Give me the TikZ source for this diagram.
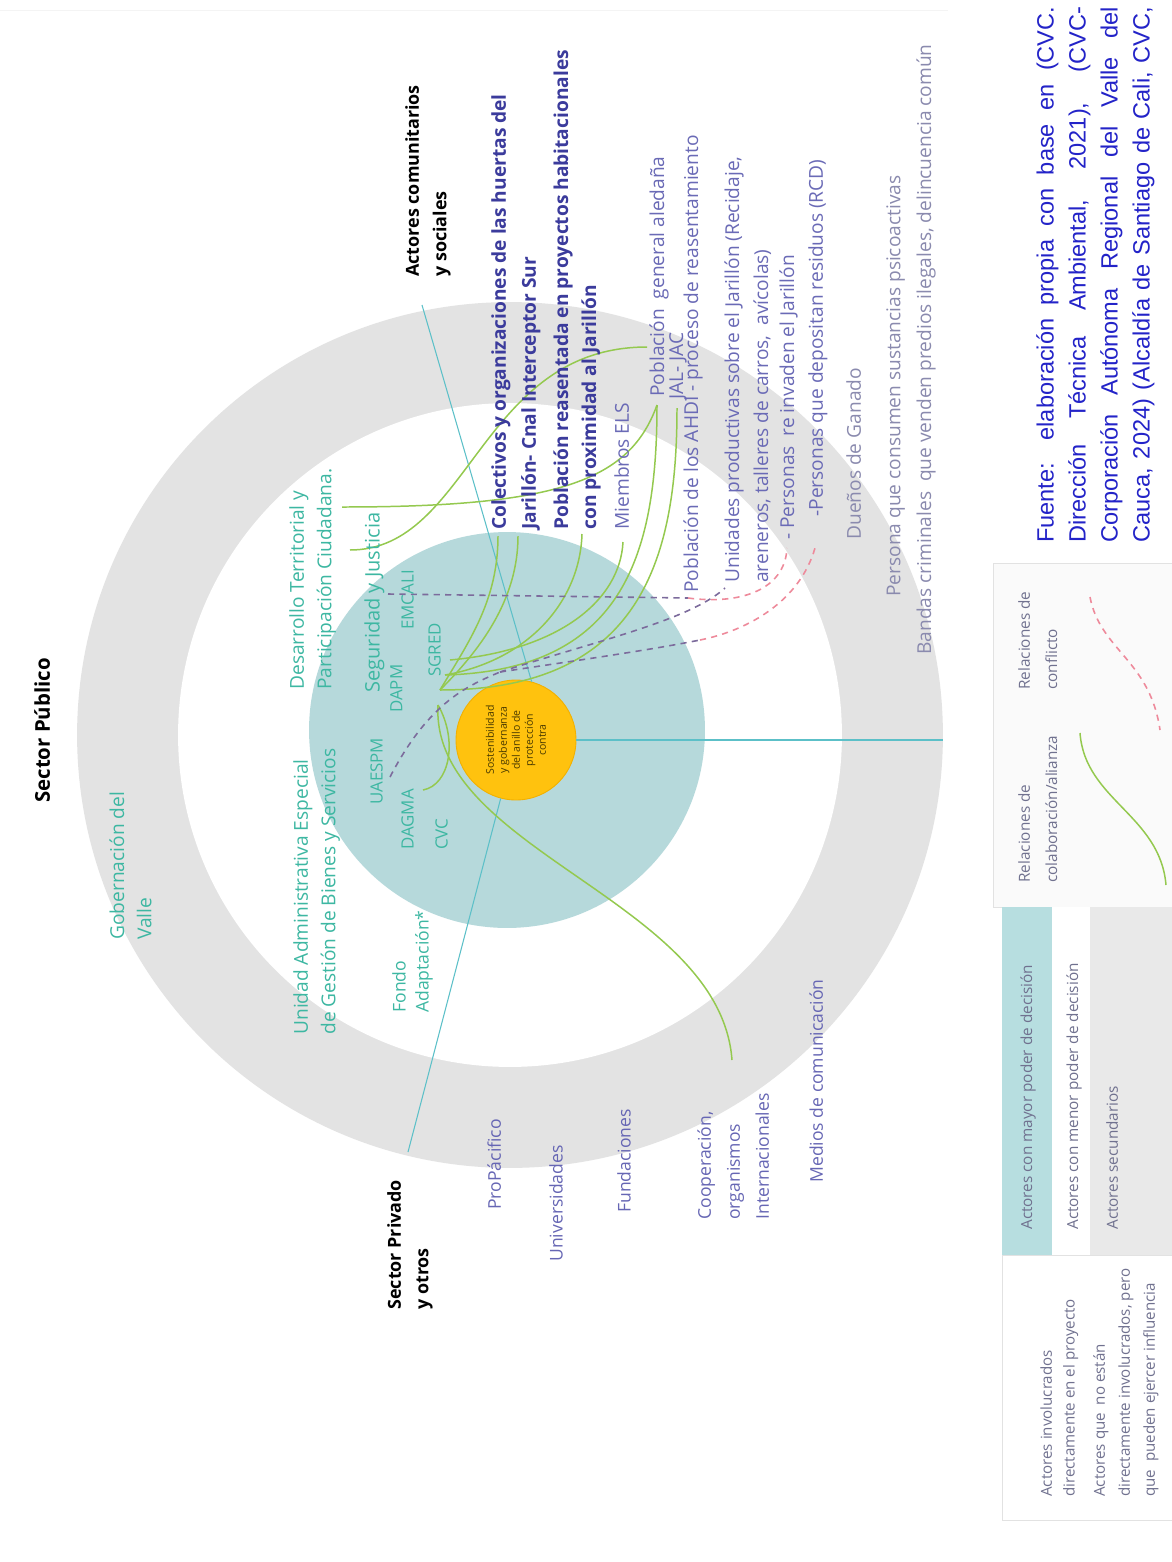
\documentclass[tikz,border=0pt]{standalone}
\usepackage{fontspec}
\setmainfont{Open Sans}
\newfontfamily\sourcefont{Liberation Sans}
\usetikzlibrary{positioning, calc}

\definecolor{ringgray}{HTML}{E3E3E3}
\definecolor{discteal}{HTML}{B6D9DB}
\definecolor{coreyellow}{HTML}{FFC20E}
\definecolor{coreedge}{HTML}{F2B000}
\definecolor{corebrown}{HTML}{4A3A00}
\definecolor{pubgreen}{HTML}{3DB7A2}
\definecolor{combold}{HTML}{3B3B9C}
\definecolor{comblue}{HTML}{6A6AB6}
\definecolor{comgray}{HTML}{8A8AAE}
\definecolor{privblue}{HTML}{6666B4}
\definecolor{linkgreen}{HTML}{94C94F}
\definecolor{divteal}{HTML}{5CC0C8}
\definecolor{dashpurple}{HTML}{7C6B9C}
\definecolor{dashpink}{HTML}{EE8A9B}
\definecolor{legteal}{HTML}{B7DEE0}
\definecolor{leggray}{HTML}{E9E9E9}
\definecolor{legline}{HTML}{E2E2E2}
\definecolor{legtext}{HTML}{70718F}
\definecolor{sourceblue}{HTML}{2323C8}

\begin{document}
\begin{tikzpicture}[x=0.02cm, y=-0.02cm,
  lab/.style={rotate=90, inner sep=0pt, align=left, anchor=north west},
  headtxt/.style={lab, font=\bfseries\fontsize{10.2}{15.6}\selectfont},
  pub/.style={lab, text=pubgreen, font=\fontsize{10.9}{15.6}\selectfont},
  pubcap/.style={lab, text=pubgreen, font=\fontsize{9.6}{15.6}\selectfont},
  combig/.style={lab, text=combold, font=\bfseries\fontsize{10.9}{17}\selectfont},
  com/.style={lab, text=comblue, font=\fontsize{10.9}{16.5}\selectfont},
  comsec/.style={lab, text=comgray, font=\fontsize{10.9}{16}\selectfont},
  priv/.style={lab, text=privblue, font=\fontsize{10}{16.5}\selectfont},
  leg/.style={lab, text=legtext, font=\fontsize{8.7}{15.4}\selectfont},
  fuentetxt/.style={lab, text=sourceblue, font=\sourcefont\fontsize{13.4}{18.2}\selectfont},
  corenode/.style={circle, fill=coreyellow, draw=coreedge, line width=0.5pt, minimum size=2.4cm, inner sep=0pt},
  coretext/.style={rotate=90, inner sep=0pt, align=center, text=corebrown, font=\fontsize{6}{7.4}\selectfont},
  alianza/.style={linkgreen, line width=0.85pt},
  pugna/.style={dashpurple, line width=0.9pt, dash pattern=on 3.5pt off 3pt},
  conflicto/.style={dashpink, line width=0.9pt, dash pattern=on 3.5pt off 3pt},
  divider/.style={divteal, line width=0.6pt}]

\useasboundingbox (0,0) rectangle (1171,1562);
\fill[white] (0,0) rectangle (1171,1562);
\draw[ringgray!40] (0,10) -- (948,10);

% rings
\fill[ringgray] (510,735) circle[radius=8.66cm];
\fill[white] (510,735) circle[radius=6.64cm];
\fill[discteal] (507,730) circle[radius=3.96cm];

\node[corenode] (core) at (516,740) {};
\node[coretext] (coretxt) at (core.center) {Sostenibilidad\\y gobernanza\\del anillo de\\protección\\contra};

\coordinate (pubedge) at (422,305);
\coordinate (comedge) at (943,740);
\coordinate (privedge) at (408,1152);
\draw[divider] (core.75) -- (pubedge);
\draw[divider] (core) -- (comedge);
\draw[divider] (core) -- (privedge);

% link ends
\coordinate (desa-l) at (342,507);
\coordinate (seg-l) at (350,550);
\coordinate (sgred-a) at (440,690);
\coordinate (sgred-b) at (445,675);
\coordinate (sgred-c) at (450,660);
\coordinate (sgred-d) at (438,705);
\coordinate (dagma-l) at (423,790);
\coordinate (colect-l) at (498,536);
\coordinate (jari-l) at (518,536);
\coordinate (pobrea-l) at (582,534);
\coordinate (miem-l) at (623,542);
\coordinate (pobgen-l) at (657,405);
\coordinate (pobgen-t) at (647,347);
\coordinate (jal-l) at (677,408);
\coordinate (coop-l) at (732,1060);

\draw[alianza] (desa-l) .. controls (560,507) and (630,480) .. (pobgen-l);
\draw[alianza] (seg-l) .. controls (470,550) and (480,347) .. (pobgen-t);
\draw[alianza] (sgred-a) .. controls (470,640) and (498,600) .. (colect-l);
\draw[alianza] (sgred-a) .. controls (480,650) and (518,600) .. (jari-l);
\draw[alianza] (sgred-b) .. controls (530,660) and (580,600) .. (pobrea-l);
\draw[alianza] (sgred-c) .. controls (560,650) and (620,600) .. (miem-l);
\draw[alianza] (sgred-b) .. controls (620,670) and (657,560) .. (pobgen-l);
\draw[alianza] (sgred-a) .. controls (640,690) and (677,560) .. (jal-l);
\draw[alianza] (sgred-d) .. controls (430,850) and (720,900) .. (coop-l);
\draw[alianza] (dagma-l) .. controls (450,785) and (458,740) .. (sgred-d);

% conflict ends
\coordinate (uaespm-d) at (390,777);
\coordinate (emcali-d) at (388,594);
\coordinate (sgred-e) at (500,672);
\coordinate (ahdi-d) at (688,598);
\coordinate (unid-d) at (725,588);
\coordinate (turn-d) at (700,640);
\coordinate (pers1-d) at (787,548);
\coordinate (pers2-d) at (815,548);

\draw[pugna] (uaespm-d) .. controls (430,700) and (470,685) .. (sgred-e);
\draw[pugna] (emcali-d) -- (ahdi-d);
\draw[pugna] (sgred-e) .. controls (600,640) and (690,620) .. (unid-d);
\draw[pugna] (sgred-e) .. controls (580,660) and (650,650) .. (turn-d);
\draw[conflicto] (turn-d) .. controls (750,630) and (800,600) .. (pers2-d);
\draw[conflicto] (ahdi-d) .. controls (740,605) and (785,590) .. (pers1-d);

% sectors
\node[headtxt, font=\bfseries\fontsize{11.6}{15.6}\selectfont] (secpub) at (34,803) {Sector Público};
\node[headtxt] (actcom) at (405,277) {Actores comunitarios\\y sociales};
\node[headtxt] (secpriv) at (387,1310) {Sector Privado\\y otros};

% public actors
\node[pub] (gob) at (109,940) {Gobernación del\\Valle};
\node[pub] (uae) at (293,1035) {Unidad Administrativa Especial\\de Gestión de Bienes y Servicios};
\node[pub] (desa) at (289,690) {Desarrollo Territorial y\\Participación Ciudadana.};
\node[pub, font=\fontsize{10}{13}\selectfont] (fondo) at (392,1013) {Fondo\\Adaptación*};
\node[pubcap] (uaespm) at (370,805) {UAESPM};
\node[pub, font=\fontsize{11.4}{15}\selectfont] (seg) at (364,693) {Seguridad y Justicia};
\node[pubcap] (dapm) at (390,713) {DAPM};
\node[pubcap] (emcali) at (401,630) {EMCALI};
\node[pubcap] (sgred) at (428,677) {SGRED};
\node[pubcap] (dagma) at (401,850) {DAGMA};
\node[pubcap] (cvc) at (435,850) {CVC};

% community actors
\node[combig] (colect) at (491,530) {Colectivos y organizaciones de las huertas del\\Jarillón- Cnal Interceptor Sur};
\node[combig, font=\bfseries\fontsize{10.9}{16}\selectfont] (pobrea) at (553,530) {Población reasentada en proyectos habitacionales\\con proximidad al Jarillón};
\node[com] (miem) at (614,530) {Miembros ELS};
\node[com] (pobgen) at (649,397) {Población\ \ general aledaña};
\node[com] (jal) at (669,400) {JAL- JAC};
\node[com] (ahdi) at (683,593) {Población de los AHDI - proceso de reasentamiento};
\node[com] (unid) at (724,583) {Unidades productivas sobre el Jarillón (Recidaje,\\areneros, talleres de carros,\ \ avícolas)};
\node[com] (pers1) at (779,540) {- Personas\ \ re invaden el Jarillón};
\node[com] (pers2) at (808,517) {-Personas que depositan residuos (RCD)};
\node[comsec] (duen) at (846,540) {Dueños de Ganado};
\node[comsec] (psico) at (886,597) {Persona que consumen sustancias psicoactivas};
\node[comsec] (bandas) at (916,655) {Bandas criminales\ \ que venden predios ilegales, delincuencia común};

% private actors
\node[priv] (propac) at (487,1210) {ProPácifico};
\node[priv] (univ) at (549,1262) {Universidades};
\node[priv] (fund) at (617,1213) {Fundaciones};
\node[priv] (coop) at (697,1220) {Cooperación,\\organismos\\Internacionales};
\node[priv] (medios) at (809,1183) {Medios de comunicación};

% legend
\fill[white!98!black] (993,563) rectangle (1180,907);
\draw[legline] (993,563) rectangle (1180,907);
\fill[legteal] (1002,907) rectangle (1052,1255);
\fill[white] (1052,907) rectangle (1090,1255);
\fill[leggray] (1090,907) rectangle (1180,1255);
\draw[legline] (1002,1255) rectangle (1180,1520);

\node[leg] (colab) at (1018,883) {Relaciones de\\colaboración/alianza};
\node[leg] (confl) at (1018,690) {Relaciones de\\conflicto};
\coordinate (colab-a) at (1080,733);
\coordinate (colab-b) at (1166,885);
\draw[alianza] (colab-a) .. controls (1085,800) and (1160,815) .. (colab-b);
\coordinate (confl-a) at (1090,597);
\coordinate (confl-b) at (1160,730);
\draw[conflicto] (confl-a) .. controls (1100,650) and (1150,660) .. (confl-b);

\node[leg] (mayor) at (1020,1230) {Actores con mayor poder de decisión};
\node[leg] (menor) at (1066,1230) {Actores con menor poder de decisión};
\node[leg] (secun) at (1106,1230) {Actores secundarios};
\node[leg, font=\fontsize{8.6}{13}\selectfont] (invol) at (1040,1497) {Actores involucrados\\directamente en el proyecto};
\node[leg, font=\fontsize{8.6}{14.2}\selectfont] (noinv) at (1093,1497) {Actores que\ \ no están\\directamente involucrados, pero\\que\ \ pueden ejercer influencia};

% source
\node[fuentetxt] (fuente) at (1036,543) {%
\makebox[10.72cm][s]{Fuente: elaboración propia con base en (CVC.}\\
\makebox[10.72cm][s]{Dirección Técnica Ambiental, 2021), (CVC-}\\
\makebox[10.72cm][s]{Corporación Autónoma Regional del Valle del}\\
\makebox[10.72cm][s]{Cauca, 2024) (Alcaldía de Santiago de Cali, CVC,}};
\end{tikzpicture}
\end{document}
